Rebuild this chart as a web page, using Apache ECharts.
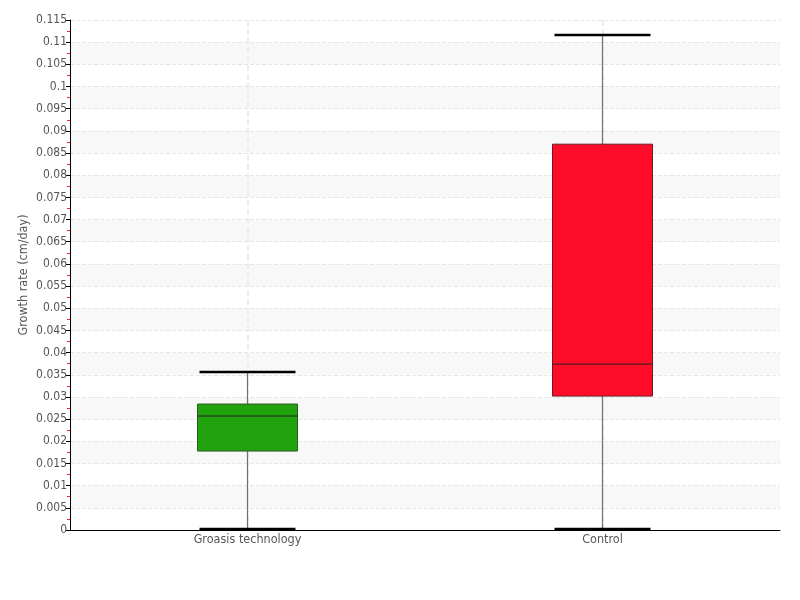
<!DOCTYPE html>
<html><head><meta charset="utf-8">
<script src="https://cdn.jsdelivr.net/npm/echarts@6/dist/echarts.min.js"></script>
<style>html,body{margin:0;padding:0;background:#fff}#c{width:800px;height:600px}</style>
</head><body><div id="c"></div>
<script>
const categories = ['Groasis technology', 'Control'];
const minVals = [0.0002, 0.0002];
const q1Vals = [0.0178, 0.0302];
const medianVals = [0.0257, 0.0374];
const q3Vals = [0.0284, 0.0870];
const maxVals = [0.0356, 0.1116];

const fillColors = ['#21a30e', '#ff0c28'];
const edgeColors = ['#2d5a22', '#6a1a22'];
const FONT = '"DejaVu Sans Condensed", "Liberation Sans Narrow", sans-serif';

const data = categories.map((c, i) => [i, minVals[i], q1Vals[i], medianVals[i], q3Vals[i], maxVals[i]]);

const chart = echarts.init(document.getElementById('c'));
chart.setOption({
  animation: false,
  grid: { left: 70, right: 20, top: 20, bottom: 70 },
  xAxis: {
    type: 'category',
    data: categories,
    boundaryGap: true,
    axisLine: { lineStyle: { color: '#000', width: 1 } },
    axisTick: { show: false },
    axisLabel: { color: '#555', fontSize: 12.5, fontFamily: FONT, margin: 3 },
    splitLine: { show: true, alignWithLabel: true, lineStyle: { color: '#e8e8e8', type: 'dashed', width: 1.5 } }
  },
  yAxis: {
    type: 'value',
    min: 0, max: 0.115, interval: 0.005,
    name: 'Growth rate (cm/day)',
    nameLocation: 'middle',
    nameGap: 40,
    nameMoveOverlap: false,
    nameTextStyle: { color: '#555', fontSize: 12.5, fontFamily: FONT },
    axisLine: { show: true, lineStyle: { color: '#000', width: 1 } },
    axisTick: { show: true, length: 4, lineStyle: { color: '#000' } },
    minorTick: { show: true, splitNumber: 2, length: 3, lineStyle: { color: '#f22' } },
    axisLabel: { color: '#555', fontSize: 12, fontFamily: FONT, margin: 3 },
    splitLine: { show: true, lineStyle: { color: '#e6e6e6', type: 'dashed', width: 1 } },
    splitArea: { show: true, areaStyle: { color: ['#ffffff', '#f8f8f8'] } }
  },
  series: [{
    type: 'custom',
    data: data,
    encode: { x: 0, y: [1, 2, 3, 4, 5] },
    renderItem: function (params, api) {
      const idx = api.value(0);
      const pMin = api.coord([idx, api.value(1)]);
      const pQ1 = api.coord([idx, api.value(2)]);
      const pMed = api.coord([idx, api.value(3)]);
      const pQ3 = api.coord([idx, api.value(4)]);
      const pMax = api.coord([idx, api.value(5)]);
      const x = pMin[0];
      const half = 50, capHalf = 48;
      const i = params.dataIndex;
      return {
        type: 'group',
        children: [
          { type: 'line', shape: { x1: x, y1: pMin[1], x2: x, y2: pMax[1] }, style: { stroke: '#707070', lineWidth: 1.2 } },
          { type: 'rect', shape: { x: x - half, y: pQ3[1], width: half * 2, height: pQ1[1] - pQ3[1] }, style: { fill: fillColors[i], stroke: edgeColors[i], lineWidth: 1 } },
          { type: 'line', shape: { x1: x - half, y1: pMed[1], x2: x + half, y2: pMed[1] }, style: { stroke: '#222', lineWidth: 1 } },
          { type: 'line', shape: { x1: x - capHalf, y1: pMax[1], x2: x + capHalf, y2: pMax[1] }, style: { stroke: '#000', lineWidth: 2.5 } },
          { type: 'line', shape: { x1: x - capHalf, y1: pMin[1], x2: x + capHalf, y2: pMin[1] }, style: { stroke: '#000', lineWidth: 2.5 } }
        ]
      };
    }
  }]
});
</script></body></html>
